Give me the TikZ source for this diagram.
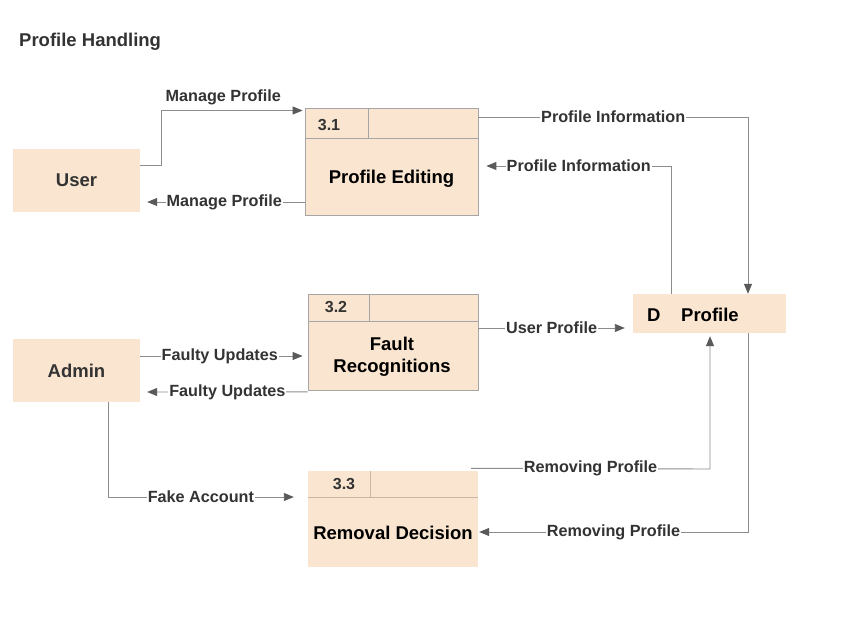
\documentclass[tikz,border=0pt]{standalone}
\usepackage{fontspec}
\setmainfont{Liberation Sans}
\usetikzlibrary{arrows.meta}
\definecolor{peach}{HTML}{FAE6D0}
\definecolor{boxline}{HTML}{A6A6A6}
\definecolor{innerline}{HTML}{C8B7A3}
\definecolor{flowline}{HTML}{8C8C8C}
\definecolor{tipcol}{HTML}{5A5A5A}
\definecolor{lbltext}{HTML}{333333}
\tikzset{
  entity/.style={fill=peach, draw=none, minimum width=127pt, minimum height=63pt, inner sep=0pt,
    font=\fontsize{18.5}{22}\selectfont\bfseries, text=lbltext},
  proc/.style={fill=peach, draw=boxline, line width=0.8pt, inner sep=0pt},
  procb/.style={fill=peach, draw=none, inner sep=0pt},
  title/.style={font=\fontsize{18.5}{22}\selectfont\bfseries, text=black, align=center, inner sep=0pt},
  num/.style={font=\fontsize{16}{19}\selectfont\bfseries, text=lbltext, inner sep=0pt},
  flow/.style={draw=flowline, line width=0.9pt, -{Triangle[length=10pt,width=8pt,color=tipcol]}},
  lbl/.style={font=\fontsize{16.2}{19}\selectfont\bfseries, text=lbltext, fill=white, inner sep=1pt},
}
\begin{document}
\begin{tikzpicture}[x=1pt,y=-1pt]
\useasboundingbox[fill=white] (0,0) rectangle (844,631);

\node[anchor=west, font=\fontsize{18.5}{22}\selectfont\bfseries, text=lbltext, inner sep=0pt] (ttl) at (19,42) {Profile Handling};

% entities
\node[entity] (User) at (76.5,180.5) {User};
\node[entity] (Admin) at (76.5,370.5) {Admin};

% process 3.1
\node[proc, minimum width=173pt, minimum height=107pt] (P31) at (391.5,161.5) {};
\draw[boxline, line width=0.8pt] (P31.west |- 0,138) -- (P31.east |- 0,138);
\draw[boxline, line width=0.8pt] (368,108) -- (368,138);
\node[num] (n31) at (329,125.5) {3.1};
\node[title] (t31) at (391.5,178.5) {Profile Editing};

% process 3.2
\node[proc, minimum width=170pt, minimum height=96pt] (P32) at (393,342) {};
\draw[boxline, line width=0.8pt] (P32.west |- 0,321) -- (P32.east |- 0,321);
\draw[boxline, line width=0.8pt] (369,294) -- (369,321);
\node[num] (n32) at (336,307.5) {3.2};
\node[title] (t32) at (392,357) {Fault\\[0pt]Recognitions};

% process 3.3
\node[procb, minimum width=170pt, minimum height=96pt] (P33) at (393,518.5) {};
\draw[innerline, line width=0.8pt] (P33.west |- 0,497) -- (P33.east |- 0,497);
\draw[innerline, line width=0.8pt] (370,470.5) -- (370,497);
\node[num] (n33) at (344,484) {3.3};
\node[title] (t33) at (393,532.5) {Removal Decision};

% data store
\node[fill=peach, draw=none, minimum width=153pt, minimum height=39pt, inner sep=0pt] (D) at (709.5,313.5) {};
\node[title, anchor=west] (Dl) at (647,315) {D};
\node[title, anchor=west] (Dn) at (681,315) {Profile};

% coordinates
\coordinate (c1) at (161,110.5);
\coordinate (c3) at (748,117);
\coordinate (c4) at (671,166);
\coordinate (c8) at (108,497);
\coordinate (c9) at (710,469);
\coordinate (c10) at (748,532);

% flows
\draw[flow] ([yshift=15.5pt]User.east) -| (c1)
  -- node[pos=0.44, lbl, fill=none, above=4pt] {Manage Profile} ([xshift=-2pt]c1 -| P31.west);
\draw[flow] ([yshift=-40.5pt]P31.west) -- node[pos=0.51, lbl] {Manage Profile} ([xshift=7pt,yshift=-21.5pt]User.east);
\draw[flow] ([yshift=44.5pt]P31.east) -- node[pos=0.5, lbl] {Profile Information} (c3) -- (c3 |- D.north);
\draw[flow] (c4 |- D.north) -- (c4) -- node[pos=0.5, lbl] {Profile Information} ([xshift=8pt]c4 -| P31.east);
\draw[flow] ([yshift=14pt]P32.east) -- node[pos=0.5, lbl] {User Profile} ([xshift=-8pt,yshift=-14.5pt]D.west);
\draw[flow] ([yshift=14.5pt]Admin.east) -- node[pos=0.49, lbl] {Faulty Updates} ([xshift=-5pt,yshift=14.5pt]Admin.east -| P32.west);
\draw[flow] ([yshift=-1.5pt]P32.south west) -- node[pos=0.5, lbl] {Faulty Updates} ([xshift=7pt,yshift=-21.5pt]Admin.east);
\draw[flow] (c8 |- Admin.south) -- (c8) -- node[pos=0.5, lbl] {Fake Account} ([xshift=-14pt]c8 -| P33.west);
\draw[flow] ([xshift=-7pt,yshift=2pt]P33.north east) -- node[pos=0.5, lbl] {Removing Profile} (c9) -- ([yshift=-3pt]c9 |- D.south);
\draw[flow] (c10 |- D.south) -- (c10) -- node[pos=0.5, lbl] {Removing Profile} ([xshift=1pt]c10 -| P33.east);
\end{tikzpicture}
\end{document}
